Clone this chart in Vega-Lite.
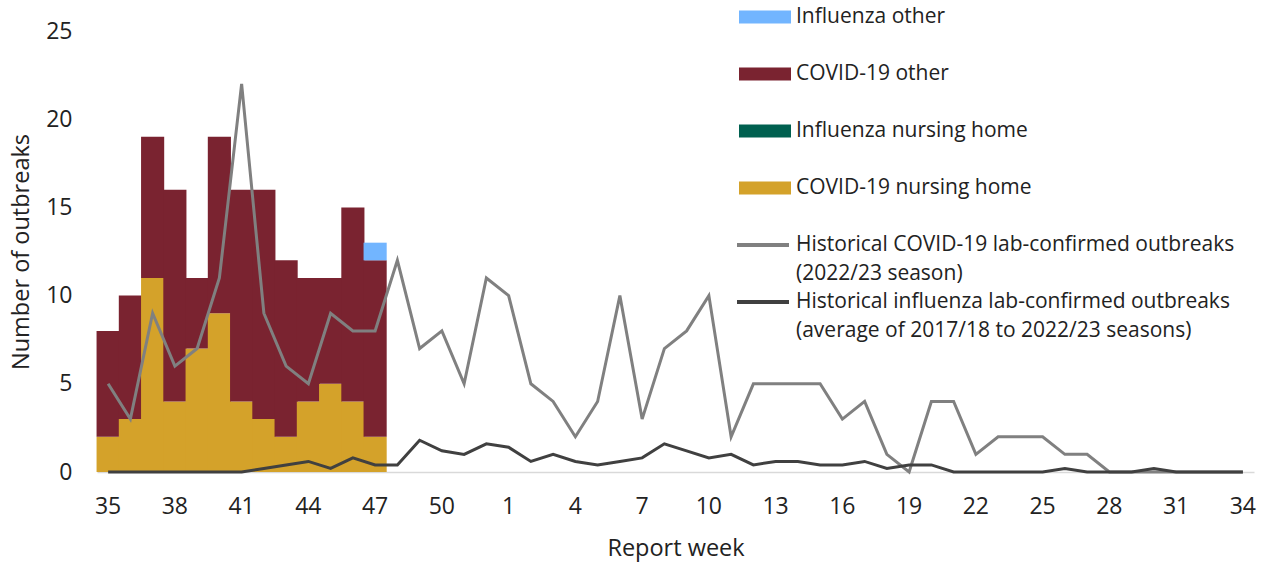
{
  "$schema": "https://vega.github.io/schema/vega-lite/v6.json",
  "width": 1157,
  "height": 441,
  "autosize": "none",
  "padding": {"left": 97, "top": 31, "right": 15, "bottom": 90},
  "config": {
    "font": "Open Sans",
    "view": {"stroke": null},
    "axis": {"grid": false, "ticks": false, "tickSize": 0, "labelFontSize": 23, "titleFontSize": 23.5, "titleFontWeight": "normal", "labelColor": "#222222", "titleColor": "#222222"},
    "legend": {"labelFontSize": 21, "labelColor": "#222222", "labelLimit": 600, "labelOffset": 5, "title": null}
  },
  "datasets": {
    "bars": [
      {"week": 35, "type": "COVID-19 nursing home", "count": 2},
      {"week": 35, "type": "COVID-19 other", "count": 6},
      {"week": 36, "type": "COVID-19 nursing home", "count": 3},
      {"week": 36, "type": "COVID-19 other", "count": 7},
      {"week": 37, "type": "COVID-19 nursing home", "count": 11},
      {"week": 37, "type": "COVID-19 other", "count": 8},
      {"week": 38, "type": "COVID-19 nursing home", "count": 4},
      {"week": 38, "type": "COVID-19 other", "count": 12},
      {"week": 39, "type": "COVID-19 nursing home", "count": 7},
      {"week": 39, "type": "COVID-19 other", "count": 4},
      {"week": 40, "type": "COVID-19 nursing home", "count": 9},
      {"week": 40, "type": "COVID-19 other", "count": 10},
      {"week": 41, "type": "COVID-19 nursing home", "count": 4},
      {"week": 41, "type": "COVID-19 other", "count": 12},
      {"week": 42, "type": "COVID-19 nursing home", "count": 3},
      {"week": 42, "type": "COVID-19 other", "count": 13},
      {"week": 43, "type": "COVID-19 nursing home", "count": 2},
      {"week": 43, "type": "COVID-19 other", "count": 10},
      {"week": 44, "type": "COVID-19 nursing home", "count": 4},
      {"week": 44, "type": "COVID-19 other", "count": 7},
      {"week": 45, "type": "COVID-19 nursing home", "count": 5},
      {"week": 45, "type": "COVID-19 other", "count": 6},
      {"week": 46, "type": "COVID-19 nursing home", "count": 4},
      {"week": 46, "type": "COVID-19 other", "count": 11},
      {"week": 47, "type": "COVID-19 nursing home", "count": 2},
      {"week": 47, "type": "COVID-19 other", "count": 10},
      {"week": 47, "type": "Influenza other", "count": 1}
    ],
    "covidHist": [
      {"week": 35, "series": "Historical COVID-19 lab-confirmed outbreaks (2022/23 season)", "value": 5},
      {"week": 36, "series": "Historical COVID-19 lab-confirmed outbreaks (2022/23 season)", "value": 3},
      {"week": 37, "series": "Historical COVID-19 lab-confirmed outbreaks (2022/23 season)", "value": 9},
      {"week": 38, "series": "Historical COVID-19 lab-confirmed outbreaks (2022/23 season)", "value": 6},
      {"week": 39, "series": "Historical COVID-19 lab-confirmed outbreaks (2022/23 season)", "value": 7},
      {"week": 40, "series": "Historical COVID-19 lab-confirmed outbreaks (2022/23 season)", "value": 11},
      {"week": 41, "series": "Historical COVID-19 lab-confirmed outbreaks (2022/23 season)", "value": 22},
      {"week": 42, "series": "Historical COVID-19 lab-confirmed outbreaks (2022/23 season)", "value": 9},
      {"week": 43, "series": "Historical COVID-19 lab-confirmed outbreaks (2022/23 season)", "value": 6},
      {"week": 44, "series": "Historical COVID-19 lab-confirmed outbreaks (2022/23 season)", "value": 5},
      {"week": 45, "series": "Historical COVID-19 lab-confirmed outbreaks (2022/23 season)", "value": 9},
      {"week": 46, "series": "Historical COVID-19 lab-confirmed outbreaks (2022/23 season)", "value": 8},
      {"week": 47, "series": "Historical COVID-19 lab-confirmed outbreaks (2022/23 season)", "value": 8},
      {"week": 48, "series": "Historical COVID-19 lab-confirmed outbreaks (2022/23 season)", "value": 12},
      {"week": 49, "series": "Historical COVID-19 lab-confirmed outbreaks (2022/23 season)", "value": 7},
      {"week": 50, "series": "Historical COVID-19 lab-confirmed outbreaks (2022/23 season)", "value": 8},
      {"week": 51, "series": "Historical COVID-19 lab-confirmed outbreaks (2022/23 season)", "value": 5},
      {"week": 52, "series": "Historical COVID-19 lab-confirmed outbreaks (2022/23 season)", "value": 11},
      {"week": 1, "series": "Historical COVID-19 lab-confirmed outbreaks (2022/23 season)", "value": 10},
      {"week": 2, "series": "Historical COVID-19 lab-confirmed outbreaks (2022/23 season)", "value": 5},
      {"week": 3, "series": "Historical COVID-19 lab-confirmed outbreaks (2022/23 season)", "value": 4},
      {"week": 4, "series": "Historical COVID-19 lab-confirmed outbreaks (2022/23 season)", "value": 2},
      {"week": 5, "series": "Historical COVID-19 lab-confirmed outbreaks (2022/23 season)", "value": 4},
      {"week": 6, "series": "Historical COVID-19 lab-confirmed outbreaks (2022/23 season)", "value": 10},
      {"week": 7, "series": "Historical COVID-19 lab-confirmed outbreaks (2022/23 season)", "value": 3},
      {"week": 8, "series": "Historical COVID-19 lab-confirmed outbreaks (2022/23 season)", "value": 7},
      {"week": 9, "series": "Historical COVID-19 lab-confirmed outbreaks (2022/23 season)", "value": 8},
      {"week": 10, "series": "Historical COVID-19 lab-confirmed outbreaks (2022/23 season)", "value": 10},
      {"week": 11, "series": "Historical COVID-19 lab-confirmed outbreaks (2022/23 season)", "value": 2},
      {"week": 12, "series": "Historical COVID-19 lab-confirmed outbreaks (2022/23 season)", "value": 5},
      {"week": 13, "series": "Historical COVID-19 lab-confirmed outbreaks (2022/23 season)", "value": 5},
      {"week": 14, "series": "Historical COVID-19 lab-confirmed outbreaks (2022/23 season)", "value": 5},
      {"week": 15, "series": "Historical COVID-19 lab-confirmed outbreaks (2022/23 season)", "value": 5},
      {"week": 16, "series": "Historical COVID-19 lab-confirmed outbreaks (2022/23 season)", "value": 3},
      {"week": 17, "series": "Historical COVID-19 lab-confirmed outbreaks (2022/23 season)", "value": 4},
      {"week": 18, "series": "Historical COVID-19 lab-confirmed outbreaks (2022/23 season)", "value": 1},
      {"week": 19, "series": "Historical COVID-19 lab-confirmed outbreaks (2022/23 season)", "value": 0},
      {"week": 20, "series": "Historical COVID-19 lab-confirmed outbreaks (2022/23 season)", "value": 4},
      {"week": 21, "series": "Historical COVID-19 lab-confirmed outbreaks (2022/23 season)", "value": 4},
      {"week": 22, "series": "Historical COVID-19 lab-confirmed outbreaks (2022/23 season)", "value": 1},
      {"week": 23, "series": "Historical COVID-19 lab-confirmed outbreaks (2022/23 season)", "value": 2},
      {"week": 24, "series": "Historical COVID-19 lab-confirmed outbreaks (2022/23 season)", "value": 2},
      {"week": 25, "series": "Historical COVID-19 lab-confirmed outbreaks (2022/23 season)", "value": 2},
      {"week": 26, "series": "Historical COVID-19 lab-confirmed outbreaks (2022/23 season)", "value": 1},
      {"week": 27, "series": "Historical COVID-19 lab-confirmed outbreaks (2022/23 season)", "value": 1},
      {"week": 28, "series": "Historical COVID-19 lab-confirmed outbreaks (2022/23 season)", "value": 0},
      {"week": 29, "series": "Historical COVID-19 lab-confirmed outbreaks (2022/23 season)", "value": 0},
      {"week": 30, "series": "Historical COVID-19 lab-confirmed outbreaks (2022/23 season)", "value": 0},
      {"week": 31, "series": "Historical COVID-19 lab-confirmed outbreaks (2022/23 season)", "value": 0},
      {"week": 32, "series": "Historical COVID-19 lab-confirmed outbreaks (2022/23 season)", "value": 0},
      {"week": 33, "series": "Historical COVID-19 lab-confirmed outbreaks (2022/23 season)", "value": 0},
      {"week": 34, "series": "Historical COVID-19 lab-confirmed outbreaks (2022/23 season)", "value": 0}
    ],
    "fluHist": [
      {"week": 35, "series": "Historical influenza lab-confirmed outbreaks (average of 2017/18 to 2022/23 seasons)", "value": 0},
      {"week": 36, "series": "Historical influenza lab-confirmed outbreaks (average of 2017/18 to 2022/23 seasons)", "value": 0},
      {"week": 37, "series": "Historical influenza lab-confirmed outbreaks (average of 2017/18 to 2022/23 seasons)", "value": 0},
      {"week": 38, "series": "Historical influenza lab-confirmed outbreaks (average of 2017/18 to 2022/23 seasons)", "value": 0},
      {"week": 39, "series": "Historical influenza lab-confirmed outbreaks (average of 2017/18 to 2022/23 seasons)", "value": 0},
      {"week": 40, "series": "Historical influenza lab-confirmed outbreaks (average of 2017/18 to 2022/23 seasons)", "value": 0},
      {"week": 41, "series": "Historical influenza lab-confirmed outbreaks (average of 2017/18 to 2022/23 seasons)", "value": 0},
      {"week": 42, "series": "Historical influenza lab-confirmed outbreaks (average of 2017/18 to 2022/23 seasons)", "value": 0.2},
      {"week": 43, "series": "Historical influenza lab-confirmed outbreaks (average of 2017/18 to 2022/23 seasons)", "value": 0.4},
      {"week": 44, "series": "Historical influenza lab-confirmed outbreaks (average of 2017/18 to 2022/23 seasons)", "value": 0.6},
      {"week": 45, "series": "Historical influenza lab-confirmed outbreaks (average of 2017/18 to 2022/23 seasons)", "value": 0.2},
      {"week": 46, "series": "Historical influenza lab-confirmed outbreaks (average of 2017/18 to 2022/23 seasons)", "value": 0.8},
      {"week": 47, "series": "Historical influenza lab-confirmed outbreaks (average of 2017/18 to 2022/23 seasons)", "value": 0.4},
      {"week": 48, "series": "Historical influenza lab-confirmed outbreaks (average of 2017/18 to 2022/23 seasons)", "value": 0.4},
      {"week": 49, "series": "Historical influenza lab-confirmed outbreaks (average of 2017/18 to 2022/23 seasons)", "value": 1.8},
      {"week": 50, "series": "Historical influenza lab-confirmed outbreaks (average of 2017/18 to 2022/23 seasons)", "value": 1.2},
      {"week": 51, "series": "Historical influenza lab-confirmed outbreaks (average of 2017/18 to 2022/23 seasons)", "value": 1.0},
      {"week": 52, "series": "Historical influenza lab-confirmed outbreaks (average of 2017/18 to 2022/23 seasons)", "value": 1.6},
      {"week": 1, "series": "Historical influenza lab-confirmed outbreaks (average of 2017/18 to 2022/23 seasons)", "value": 1.4},
      {"week": 2, "series": "Historical influenza lab-confirmed outbreaks (average of 2017/18 to 2022/23 seasons)", "value": 0.6},
      {"week": 3, "series": "Historical influenza lab-confirmed outbreaks (average of 2017/18 to 2022/23 seasons)", "value": 1.0},
      {"week": 4, "series": "Historical influenza lab-confirmed outbreaks (average of 2017/18 to 2022/23 seasons)", "value": 0.6},
      {"week": 5, "series": "Historical influenza lab-confirmed outbreaks (average of 2017/18 to 2022/23 seasons)", "value": 0.4},
      {"week": 6, "series": "Historical influenza lab-confirmed outbreaks (average of 2017/18 to 2022/23 seasons)", "value": 0.6},
      {"week": 7, "series": "Historical influenza lab-confirmed outbreaks (average of 2017/18 to 2022/23 seasons)", "value": 0.8},
      {"week": 8, "series": "Historical influenza lab-confirmed outbreaks (average of 2017/18 to 2022/23 seasons)", "value": 1.6},
      {"week": 9, "series": "Historical influenza lab-confirmed outbreaks (average of 2017/18 to 2022/23 seasons)", "value": 1.2},
      {"week": 10, "series": "Historical influenza lab-confirmed outbreaks (average of 2017/18 to 2022/23 seasons)", "value": 0.8},
      {"week": 11, "series": "Historical influenza lab-confirmed outbreaks (average of 2017/18 to 2022/23 seasons)", "value": 1.0},
      {"week": 12, "series": "Historical influenza lab-confirmed outbreaks (average of 2017/18 to 2022/23 seasons)", "value": 0.4},
      {"week": 13, "series": "Historical influenza lab-confirmed outbreaks (average of 2017/18 to 2022/23 seasons)", "value": 0.6},
      {"week": 14, "series": "Historical influenza lab-confirmed outbreaks (average of 2017/18 to 2022/23 seasons)", "value": 0.6},
      {"week": 15, "series": "Historical influenza lab-confirmed outbreaks (average of 2017/18 to 2022/23 seasons)", "value": 0.4},
      {"week": 16, "series": "Historical influenza lab-confirmed outbreaks (average of 2017/18 to 2022/23 seasons)", "value": 0.4},
      {"week": 17, "series": "Historical influenza lab-confirmed outbreaks (average of 2017/18 to 2022/23 seasons)", "value": 0.6},
      {"week": 18, "series": "Historical influenza lab-confirmed outbreaks (average of 2017/18 to 2022/23 seasons)", "value": 0.2},
      {"week": 19, "series": "Historical influenza lab-confirmed outbreaks (average of 2017/18 to 2022/23 seasons)", "value": 0.4},
      {"week": 20, "series": "Historical influenza lab-confirmed outbreaks (average of 2017/18 to 2022/23 seasons)", "value": 0.4},
      {"week": 21, "series": "Historical influenza lab-confirmed outbreaks (average of 2017/18 to 2022/23 seasons)", "value": 0},
      {"week": 22, "series": "Historical influenza lab-confirmed outbreaks (average of 2017/18 to 2022/23 seasons)", "value": 0},
      {"week": 23, "series": "Historical influenza lab-confirmed outbreaks (average of 2017/18 to 2022/23 seasons)", "value": 0},
      {"week": 24, "series": "Historical influenza lab-confirmed outbreaks (average of 2017/18 to 2022/23 seasons)", "value": 0},
      {"week": 25, "series": "Historical influenza lab-confirmed outbreaks (average of 2017/18 to 2022/23 seasons)", "value": 0},
      {"week": 26, "series": "Historical influenza lab-confirmed outbreaks (average of 2017/18 to 2022/23 seasons)", "value": 0.2},
      {"week": 27, "series": "Historical influenza lab-confirmed outbreaks (average of 2017/18 to 2022/23 seasons)", "value": 0},
      {"week": 28, "series": "Historical influenza lab-confirmed outbreaks (average of 2017/18 to 2022/23 seasons)", "value": 0},
      {"week": 29, "series": "Historical influenza lab-confirmed outbreaks (average of 2017/18 to 2022/23 seasons)", "value": 0},
      {"week": 30, "series": "Historical influenza lab-confirmed outbreaks (average of 2017/18 to 2022/23 seasons)", "value": 0.2},
      {"week": 31, "series": "Historical influenza lab-confirmed outbreaks (average of 2017/18 to 2022/23 seasons)", "value": 0},
      {"week": 32, "series": "Historical influenza lab-confirmed outbreaks (average of 2017/18 to 2022/23 seasons)", "value": 0},
      {"week": 33, "series": "Historical influenza lab-confirmed outbreaks (average of 2017/18 to 2022/23 seasons)", "value": 0},
      {"week": 34, "series": "Historical influenza lab-confirmed outbreaks (average of 2017/18 to 2022/23 seasons)", "value": 0}
    ]
  },
  "encoding": {
    "x": {
      "field": "week",
      "type": "ordinal",
      "scale": {
        "domain": [35,36,37,38,39,40,41,42,43,44,45,46,47,48,49,50,51,52,1,2,3,4,5,6,7,8,9,10,11,12,13,14,15,16,17,18,19,20,21,22,23,24,25,26,27,28,29,30,31,32,33,34],
        "paddingInner": 0,
        "paddingOuter": 0
      },
      "axis": {
        "title": "Report week",
        "values": [35,38,41,44,47,50,1,4,7,10,13,16,19,22,25,28,31,34],
        "labelAngle": 0,
        "labelPadding": 23,
        "titlePadding": 18,
        "domainColor": "#d9d9d9",
        "domainWidth": 1.5
      }
    }
  },
  "layer": [
    {
      "data": {"name": "bars"},
      "mark": {"type": "bar", "width": {"band": 1.04}},
      "encoding": {
        "y": {
          "field": "count",
          "type": "quantitative",
          "stack": "zero",
          "scale": {"domain": [0, 25], "nice": false, "zero": true},
          "axis": {"title": "Number of outbreaks", "values": [0,5,10,15,20,25], "domain": false, "labelPadding": 25, "titlePadding": 12}
        },
        "fill": {
          "field": "type",
          "type": "nominal",
          "scale": {
            "domain": ["Influenza other", "COVID-19 other", "Influenza nursing home", "COVID-19 nursing home"],
            "range": ["#72B5FF", "#7A2330", "#006050", "#D4A22A"]
          },
          "legend": {
            "orient": "none",
            "legendX": 642,
            "legendY": -40,
            "symbolType": "M-1,-0.25L1,-0.25L1,0.25L-1,0.25Z",
            "symbolSize": 2704,
            "symbolStrokeWidth": 0,
            "rowPadding": 21
          }
        },
        "order": {"field": "type", "sort": "ascending"}
      }
    },
    {
      "data": {"name": "covidHist"},
      "mark": {"type": "line", "strokeWidth": 3},
      "encoding": {
        "y": {"field": "value", "type": "quantitative", "scale": {"domain": [0, 25], "nice": false}},
        "stroke": {
          "field": "series",
          "type": "nominal",
          "scale": {"range": ["#808080"]},
          "legend": {
            "orient": "none",
            "legendX": 638,
            "legendY": 186,
            "symbolType": "stroke",
            "symbolSize": 2704,
            "symbolStrokeWidth": 4,
            "labelExpr": "split(replace(datum.label, ' (', '|('), '|')",
            "encode": {"labels": {"update": {"lineHeight": {"value": 29}}}}
          }
        }
      }
    },
    {
      "data": {"name": "fluHist"},
      "mark": {"type": "line", "strokeWidth": 3},
      "encoding": {
        "y": {"field": "value", "type": "quantitative", "scale": {"domain": [0, 25], "nice": false}},
        "color": {
          "field": "series",
          "type": "nominal",
          "scale": {"range": ["#404040"]},
          "legend": {
            "orient": "none",
            "legendX": 638,
            "legendY": 243,
            "symbolType": "stroke",
            "symbolSize": 2704,
            "symbolStrokeWidth": 4,
            "labelExpr": "split(replace(datum.label, ' (', '|('), '|')",
            "encode": {"labels": {"update": {"lineHeight": {"value": 29}}}}
          }
        }
      }
    }
  ]
}
